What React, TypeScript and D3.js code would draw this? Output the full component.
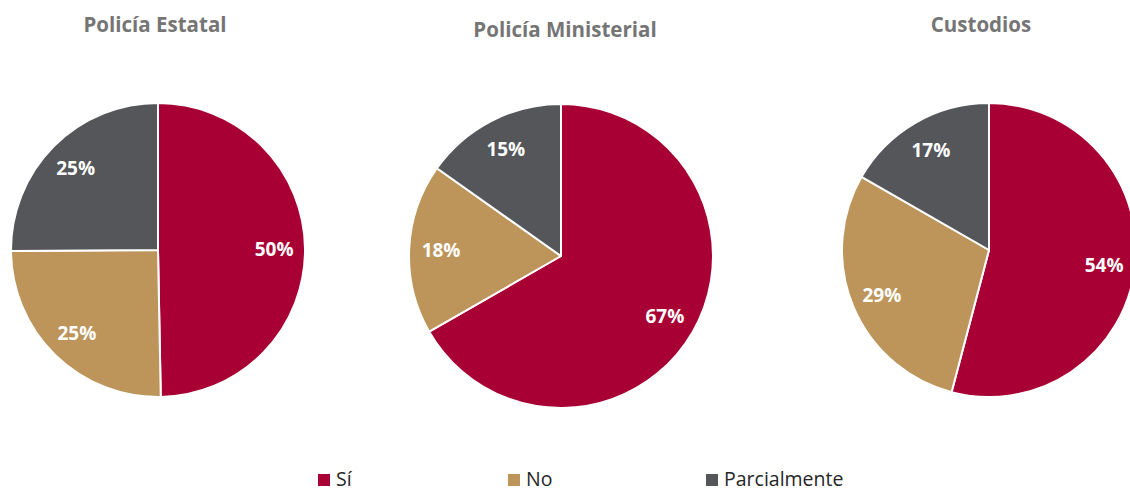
import React from "react";
import * as d3 from "d3";

const categories = ["Sí", "No", "Parcialmente"];
const chartTitles = ["Policía Estatal", "Policía Ministerial", "Custodios"];
const estatalValues = [49.7, 25.2, 25.1];
const ministerialValues = [66.7, 18.1, 15.2];
const custodiosValues = [54.1, 29.2, 16.7];
const colors = ["#A80034", "#BD955B", "#55565A"];

const W = 1130;
const H = 491;

const charts = [
  { title: chartTitles[0], values: estatalValues, cx: 158, cy: 250, r: 147, tx: 155, ty: 32 },
  { title: chartTitles[1], values: ministerialValues, cx: 561, cy: 256, r: 152, tx: 565, ty: 37 },
  { title: chartTitles[2], values: custodiosValues, cx: 989, cy: 250, r: 147, tx: 981, ty: 32 },
];

const legendX = [318, 508, 706];

function Pie({ c }: { c: (typeof charts)[number] }) {
  const pie = d3.pie<number>().sort(null).value((d) => d);
  const arcs = pie(c.values);
  const arc = d3.arc<d3.PieArcDatum<number>>().innerRadius(0).outerRadius(c.r);
  const labelArc = d3
    .arc<d3.PieArcDatum<number>>()
    .innerRadius(c.r * 0.79)
    .outerRadius(c.r * 0.79);
  return (
    <g>
      <text
        x={c.tx}
        y={c.ty}
        textAnchor="middle"
        fontFamily="'Open Sans', sans-serif"
        fontWeight={700}
        fontSize={20.5}
        fill="#757575"
      >
        {c.title}
      </text>
      <g transform={`translate(${c.cx},${c.cy})`}>
        {arcs.map((a, i) => (
          <path key={i} d={arc(a) || ""} fill={colors[i]} stroke="#fff" strokeWidth={2} strokeLinejoin="round" />
        ))}
        {arcs.map((a, i) => {
          const [x, y] = labelArc.centroid(a);
          return (
            <text
              key={"l" + i}
              x={x}
              y={y}
              textAnchor="middle"
              dominantBaseline="central"
              fontFamily="'Open Sans', sans-serif"
              fontWeight={700}
              fontSize={19}
              fill="#fff"
            >
              {d3.format(".0f")(a.data) + "%"}
            </text>
          );
        })}
      </g>
    </g>
  );
}

export default function App() {
  return (
    <svg
      width={W}
      height={H}
      viewBox={`0 0 ${W} ${H}`}
      style={{ position: "absolute", left: 0, top: 0, background: "#fff" }}
    >
      <rect width={W} height={H} fill="#fff" />
      {charts.map((c, i) => (
        <Pie key={i} c={c} />
      ))}
      {categories.map((cat, i) => (
        <g key={cat} transform={`translate(${legendX[i]},473)`}>
          <rect x={0} y={1} width={12} height={12} fill={colors[i]} />
          <text
            x={18}
            y={13}
            fontFamily="'Open Sans', sans-serif"
            fontSize={19.5}
            fill="#262626"
          >
            {cat}
          </text>
        </g>
      ))}
    </svg>
  );
}
